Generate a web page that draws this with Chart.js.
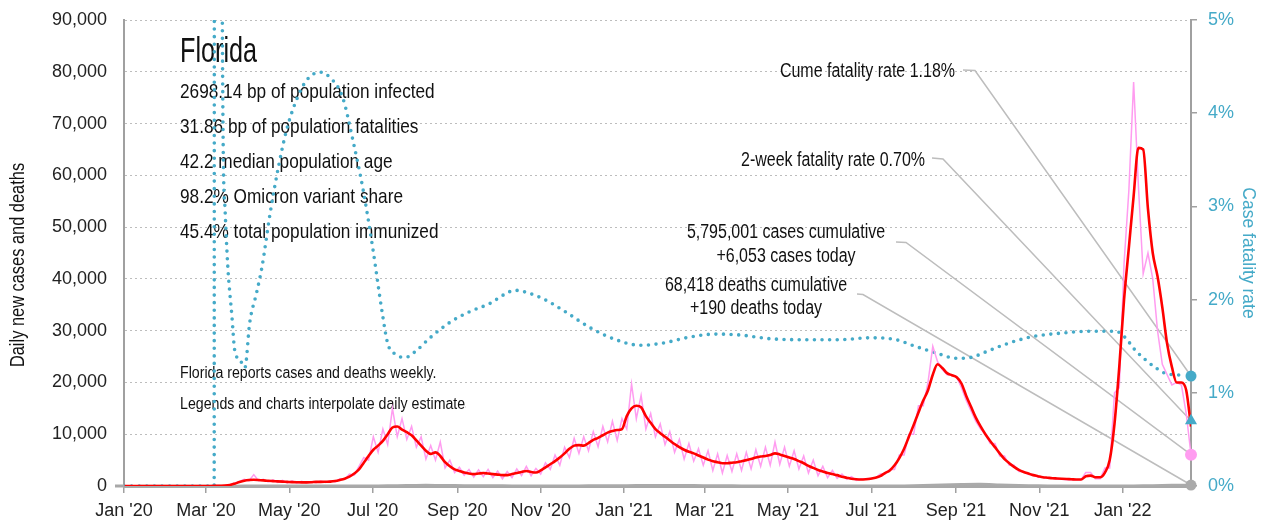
<!DOCTYPE html>
<html>
<head>
<meta charset="utf-8">
<script src="https://cdn.jsdelivr.net/npm/chart.js@4.4.1/dist/chart.umd.min.js"></script>
<style>
  html, body { margin: 0; padding: 0; background: #fff; }
  canvas { display: block; }
</style>
</head>
<body>
<canvas id="chart" width="1266" height="527"></canvas>
<script>
const FONT = "'Liberation Sans', Arial, sans-serif";
const SQUEEZE = 0.82; // condensed look for the drawn text
const TEAL = "#45aac8";
const PINK = "#ff9cf0";
const RED = "#ff0000";
const GREY = "#aaaaaa";

// x axis: days since 2020-01-01
const tickDates = ["2020-01-01", "2020-03-01", "2020-05-01", "2020-07-01", "2020-09-01", "2020-11-01",
  "2021-01-01", "2021-03-01", "2021-05-01", "2021-07-01", "2021-09-01", "2021-11-01", "2022-01-01"];
const tickLabels = ["Jan '20", "Mar '20", "May '20", "Jul '20", "Sep '20", "Nov '20",
  "Jan '21", "Mar '21", "May '21", "Jul '21", "Sep '21", "Nov '21", "Jan '22"];
const lastDate = "2022-02-20";

// cases, one value every 3.5 days starting 2020-01-01 (day 0.5)
const caseStart = 0.5, caseStep = 3.5;
const avgCases = [
  0, 0, 0, 0, 0, 0, 0, 0, 0, 0,
  0, 0, 0, 0, 0, 0, 0, 0, 5, 20,
  40, 80, 200, 450, 750, 1000, 1150, 1200, 1150, 1080,
  1000, 950, 900, 850, 800, 750, 720, 700, 700, 720,
  800, 800, 820, 850, 950, 1150, 1400, 1800, 2400, 3200,
  4500, 5800, 7000, 7800, 8700, 10000, 11300, 11500, 10900, 10400,
  9800, 8800, 7800, 6800, 6200, 6500, 5800, 4600, 3800, 3200,
  2900, 2600, 2400, 2300, 2400, 2500, 2400, 2300, 2200, 2100,
  2100, 2300, 2500, 2700, 2900, 2700, 2600, 3000, 3600, 4200,
  4800, 5500, 6300, 7200, 7800, 7900, 7800, 8300, 8900, 9300,
  9800, 10300, 10600, 10800, 11000, 13500, 15000, 15500, 15200, 13500,
  12200, 11000, 10200, 9500, 8800, 8100, 7500, 7000, 6600, 6300,
  5900, 5500, 5100, 4800, 4600, 4400, 4400, 4500, 4600, 4800,
  5000, 5200, 5500, 5700, 5800, 6000, 6300, 6100, 5800, 5500,
  5200, 4800, 4400, 3900, 3500, 3100, 2800, 2500, 2300, 2100,
  1800, 1600, 1400, 1300, 1250, 1300, 1400, 1600, 1900, 2500,
  3000, 4000, 5400, 7200, 9500, 11800, 14200, 16500, 18500, 21500,
  23500, 22800, 21800, 21400, 21000, 19800, 17400, 15300, 13200, 11500,
  10000, 8700, 7500, 6300, 5200, 4400, 3700, 3100, 2700, 2400,
  2100, 1900, 1700, 1600, 1500, 1450, 1400, 1350, 1300, 1250,
  1250, 1900, 2000, 1700, 1700, 2600, 5000, 12000, 23000, 36000,
  46000, 56000, 65300, 65000, 53500, 45000, 40500, 34500, 27500, 23000,
  20000, 20000, 18500, 11500
];
const dailyCases = [
  0, 0, 0, 0, 0, 0, 0, 0, 0, 0,
  0, 0, 0, 0, 0, 0, 0, 0, 10, 30,
  50, 120, 250, 600, 900, 1300, 1000, 2200, 1000, 1300,
  800, 1200, 700, 1100, 600, 1000, 550, 900, 600, 850,
  650, 950, 700, 1000, 800, 1400, 1300, 2300, 2100, 3800,
  5500, 5000, 9500, 6500, 11000, 8000, 15000, 9500, 13000, 9000,
  11500, 7500, 9500, 5200, 7800, 5000, 8500, 3500, 5000, 2600,
  3600, 2100, 3200, 1700, 3100, 1800, 3200, 1600, 2900, 1400,
  2800, 1600, 3300, 2000, 3800, 2000, 3400, 2300, 4500, 3200,
  6000, 4000, 7500, 5500, 9200, 6300, 9500, 6800, 10500, 7600,
  11500, 8500, 12500, 8800, 13000, 11000, 19700, 13000, 17500, 11000,
  14000, 9500, 12000, 8000, 10500, 6500, 9000, 5200, 8200, 4800,
  7200, 4000, 6800, 3000, 6200, 2500, 5900, 2800, 6200, 3000,
  6500, 3300, 7000, 3800, 7500, 4000, 8500, 4200, 7500, 3800,
  6800, 3300, 5800, 2500, 5000, 2000, 3800, 1600, 3000, 1500,
  2300, 1300, 1800, 1100, 1400, 1400, 1500, 1500, 2300, 2300,
  3200, 3200, 6000, 6000, 10000, 10000, 15500, 15500, 20000, 27000,
  24000, 22500, 21500, 21500, 21000, 19000, 16500, 14500, 12500, 11000,
  10000, 8200, 8200, 5800, 5800, 4000, 4000, 2800, 2800, 2200,
  2200, 1700, 1700, 1500, 1500, 1300, 1300, 1200, 1200, 1200,
  1200, 2600, 2600, 1400, 1400, 3500, 3500, 18000, 19000, 43000,
  57000, 78000, 58000, 41000, 45000, 40000, 30000, 23500, 21500, 19500,
  20000, 19500, 14000, 6053
];

// deaths, one value every 14 days starting 2020-01-12
const deathStart = 11, deathStep = 14;
const dailyDeaths = [
  0, 0, 0, 0, 1, 15, 45, 50, 45, 40,
  40, 35, 40, 90, 130, 170, 150, 120, 100, 80,
  60, 60, 60, 70, 80, 100, 140, 160, 150, 130,
  100, 80, 65, 60, 55, 50, 40, 35, 30, 40,
  60, 150, 240, 330, 370, 260, 160, 80, 45, 35,
  30, 25, 60, 120, 180, 190
];

// case fatality rate (%), by day since 2020-01-01
const cfrDays = [0, 66, 66.5, 71, 72.5, 74, 76, 79, 81, 85, 88.5, 92, 97, 101, 107, 113, 119, 127, 134, 143.5,
  151, 160, 168, 175, 182, 189, 193, 198, 206, 213, 224, 239, 253, 268, 279, 286, 294, 308, 323, 341,
  360, 378, 393, 415, 433, 451, 473, 495, 524, 546, 565, 579, 594, 609, 620, 631, 645, 664, 686, 708,
  726, 733, 740, 748, 755, 762, 773];
const cfrPct = [0, 0, 40, 9, 3.8, 2.96, 2.35, 1.82, 1.46, 1.35, 1.27, 1.75, 2.07, 2.35, 2.93, 3.42, 3.82, 4.17, 4.36, 4.44,
  4.38, 4.17, 3.68, 3.18, 2.56, 1.86, 1.53, 1.42, 1.38, 1.44, 1.59, 1.76, 1.87, 1.96, 2.06, 2.1, 2.08, 2.0, 1.87, 1.7,
  1.57, 1.51, 1.53, 1.6, 1.63, 1.62, 1.58, 1.57, 1.57, 1.59, 1.57, 1.5, 1.43, 1.37, 1.38, 1.44, 1.52, 1.6, 1.64, 1.66,
  1.66, 1.59, 1.46, 1.35, 1.27, 1.21, 1.19];

const stateName = "Florida";
const statLines = ["2698.14 bp of population infected", "31.86 bp of population fatalities",
  "42.2 median population age", "98.2% Omicron variant share", "45.4% total population immunized"];
const noteLines = ["Florida reports cases and deaths weekly.", "Legends and charts interpolate daily estimates."];
const leftTitle = "Daily new cases and deaths";
const cumCases = 5795001, todayCases = 6053;
const cumDeaths = 68418, todayDeaths = 190;
const cumeCfr = 1.18, twoWeekCfr = 0.70;

const dayOf = s => (Date.parse(s) - Date.parse("2020-01-01")) / 86400000;
const tickDays = tickDates.map(dayOf);
const lastDay = dayOf(lastDate);
const series = (start, step, vals) => vals.map((v, i) => ({ x: start + i * step, y: v }));
const fmt = n => n.toLocaleString("en-US");

Chart.defaults.font.family = FONT;
Chart.defaults.color = "#222";

const callouts = [
  { lines: [`Cume fatality rate ${cumeCfr.toFixed(2)}%`], x: 955, align: "right", base: [77],
    from: [963, 70], bend: [975, 70.5], axis: "y1", value: cumeCfr },
  { lines: [`2-week fatality rate ${twoWeekCfr.toFixed(2)}%`], x: 925, align: "right", base: [166],
    from: [932, 158], bend: [943, 159], axis: "y1", value: twoWeekCfr },
  { lines: [`${fmt(cumCases)} cases cumulative`, `+${fmt(todayCases)} cases today`], x: 786, align: "center", base: [237.5, 262],
    from: [896, 242], bend: [906, 242.5], axis: "y", value: todayCases },
  { lines: [`${fmt(cumDeaths)} deaths cumulative`, `+${todayDeaths} deaths today`], x: 756, align: "center", base: [291, 313.5],
    from: [857, 294], bend: [863, 294.5], axis: "y", value: todayDeaths }
];

function squeezedText(ctx, str, x, y, size, align, squeeze) {
  ctx.save();
  ctx.font = `${size}px ${FONT}`;
  ctx.textAlign = align || "left";
  ctx.textBaseline = "alphabetic";
  ctx.translate(x, y);
  ctx.scale(squeeze || SQUEEZE, 1);
  ctx.fillText(str, 0, 0);
  ctx.restore();
}

const overlay = {
  id: "overlay",
  beforeDatasetsDraw(chart) {
    const { ctx, scales } = chart;
    const y0 = scales.y.getPixelForValue(0);
    ctx.save();
    // short stub of the x axis left of the y axis
    ctx.strokeStyle = "#a8a8a8";
    ctx.lineWidth = 3;
    ctx.beginPath();
    ctx.moveTo(115, y0);
    ctx.lineTo(chart.chartArea.left, y0);
    ctx.stroke();

    ctx.fillStyle = "#111";
    // left axis title, centred on the canvas height
    ctx.save();
    ctx.translate(24, 265);
    ctx.rotate(-Math.PI / 2);
    squeezedText(ctx, leftTitle, 0, 0, 20, "center");
    ctx.restore();

    squeezedText(ctx, stateName, 180, 62, 35, "left", 0.72);
    statLines.forEach((t, i) => squeezedText(ctx, t, 180, 97.5 + i * 35.2, 21));
    squeezedText(ctx, noteLines[0], 180, 378, 17.3);
    ctx.save();
    ctx.beginPath();
    ctx.rect(170, 386, 296, 30);
    ctx.clip();
    squeezedText(ctx, noteLines[1], 180, 409, 17.3);
    ctx.restore();

    // callouts with leader lines to the end markers
    ctx.strokeStyle = "#bdbdbd";
    ctx.lineWidth = 1.5;
    const ex = scales.x.getPixelForValue(lastDay);
    callouts.forEach(c => {
      c.lines.forEach((t, i) => squeezedText(ctx, t, c.x, c.base[i], 19.5, c.align));
      ctx.beginPath();
      ctx.moveTo(c.from[0], c.from[1]);
      ctx.lineTo(c.bend[0], c.bend[1]);
      ctx.lineTo(ex, scales[c.axis].getPixelForValue(c.value));
      ctx.stroke();
    });
    ctx.restore();
  }
};

const marker = (value, axis, color, style, r) => ({
  data: [{ x: lastDay, y: value }], yAxisID: axis, showLine: false, clip: false,
  pointStyle: style, pointRadius: r, pointBackgroundColor: color, pointBorderColor: color, pointBorderWidth: 0
});

const datasets = [
  marker(cumeCfr, "y1", TEAL, "circle", 5.5),
  marker(twoWeekCfr, "y1", TEAL, "triangle", 7),
  marker(todayCases, "y", PINK, "circle", 6),
  marker(todayDeaths, "y", GREY, "circle", 5.5),
  { label: "7-day average", data: series(caseStart, caseStep, avgCases), yAxisID: "y",
    borderColor: RED, borderWidth: 2.6, pointRadius: 0, cubicInterpolationMode: "monotone" },
  { label: "Daily cases", data: series(caseStart, caseStep, dailyCases), yAxisID: "y",
    borderColor: PINK, borderWidth: 1.5, pointRadius: 0, tension: 0 },
  { label: "Daily deaths", data: series(deathStart, deathStep, dailyDeaths), yAxisID: "y",
    borderColor: GREY, borderWidth: 2.5, pointRadius: 0, tension: 0.3 },
  { label: "Case fatality rate", data: cfrDays.map((d, i) => ({ x: d, y: cfrPct[i] })), yAxisID: "y1",
    borderColor: TEAL, borderWidth: 3.6, borderDash: [0, 7.6], borderCapStyle: "round",
    pointRadius: 0, cubicInterpolationMode: "monotone" }
];

const fixSide = w => s => { s.width = w; s.paddingTop = 20; s.paddingBottom = 0; };

new Chart(document.getElementById("chart"), {
  type: "line",
  data: { datasets },
  options: {
    responsive: false,
    animation: false,
    devicePixelRatio: 1,
    layout: { padding: { top: 20, left: 0, right: 0, bottom: 0 } },
    plugins: { legend: { display: false }, tooltip: { enabled: false } },
    scales: {
      x: {
        type: "linear", min: 0, max: lastDay,
        afterBuildTicks: s => { s.ticks = tickDays.map(v => ({ value: v })); },
        afterFit: s => { s.height = 41; },
        ticks: { autoSkip: false, maxRotation: 0, padding: 7, color: "#222", font: { size: 18 },
          callback: (v, i) => tickLabels[i] },
        grid: { drawOnChartArea: false, tickLength: 7, color: "#a0a0a0", lineWidth: 1.5 },
        border: { color: "#a8a8a8", width: 3 }
      },
      y: {
        position: "left", min: 0, max: 90000,
        afterFit: fixSide(124),
        ticks: { stepSize: 10000, padding: 17, color: "#222", font: { size: 18 }, callback: v => fmt(v) },
        grid: { color: "#bdbdbd", lineWidth: 1, drawTicks: false },
        border: { color: "#a0a0a0", width: 2, dash: [2, 3] }
      },
      y1: {
        position: "right", min: 0, max: 5,
        afterFit: fixSide(75),
        ticks: { stepSize: 1, padding: 11, color: TEAL, font: { size: 18 }, callback: v => v + "%" },
        grid: { drawOnChartArea: false, tickLength: 6, color: "#a0a0a0", lineWidth: 1.5 },
        border: { color: "#a0a0a0", width: 2 },
        title: { display: true, text: "Case fatality rate", color: TEAL, font: { size: 17.5 }, padding: { top: 8, bottom: 0 } }
      }
    }
  },
  plugins: [overlay]
});
</script>
</body>
</html>
